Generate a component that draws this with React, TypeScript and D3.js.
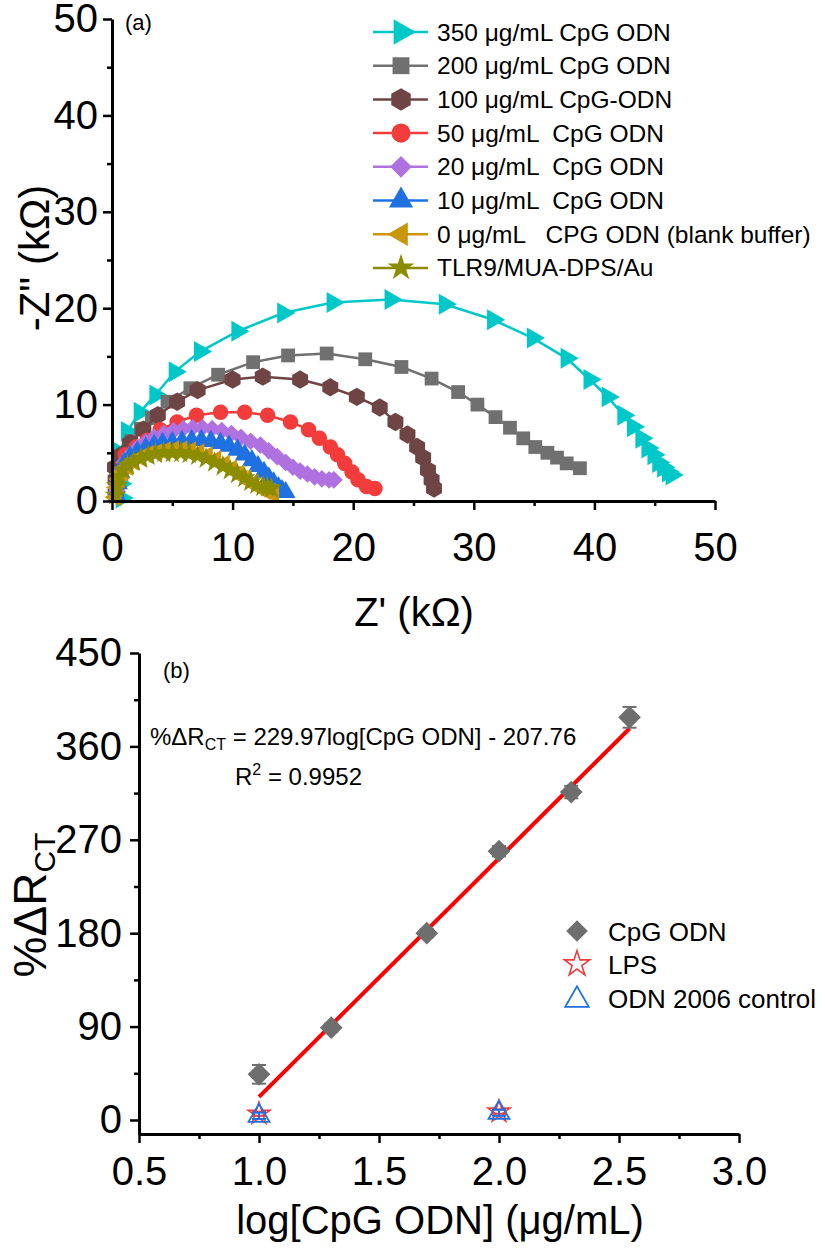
import * as d3 from "d3";
import React, { useEffect, useRef } from "react";

const W = 825;
const H = 1248;
const FONT = "Arial, 'Liberation Sans', Helvetica, sans-serif";

// ---- panel (a): Nyquist plots, Z' / -Z'' in kOhm ----
const S350: [number, number][] = [
  [0.8, 0.3], [0.7, 1.8], [0.65, 3.5], [0.66, 5.0], [1.24, 7.2], [2.3, 9.2], [3.6, 11.0],
  [5.2, 13.4], [7.3, 15.5], [10.4, 17.6], [14.2, 19.5], [18.3, 20.6], [23.1, 20.9],
  [27.6, 20.4], [31.6, 18.8], [34.9, 16.9], [37.7, 14.8], [39.6, 12.6], [41.1, 10.8],
  [42.4, 8.9], [43.2, 7.7], [43.9, 6.5], [44.4, 5.5], [44.9, 4.8], [45.3, 4.0],
  [45.7, 3.5], [46.1, 3.0], [46.4, 2.7],
];
const S200: [number, number][] = [
  [0.4, 1.2], [0.6, 3.0], [1.0, 4.8], [1.6, 6.2], [2.4, 7.5], [3.3, 8.6], [4.6, 10.3],
  [6.5, 11.7], [8.8, 13.1], [11.7, 14.4], [14.6, 15.1], [17.8, 15.3], [21.0, 14.7],
  [24.0, 13.9], [26.5, 12.7], [28.7, 11.3], [30.3, 10.0], [31.8, 8.7], [33.0, 7.6],
  [34.1, 6.5], [35.1, 5.6], [36.1, 5.0], [36.9, 4.5], [37.7, 3.9], [38.8, 3.4],
];
const S100: [number, number][] = [
  [0.3, 0.8], [0.3, 2.2], [0.25, 3.5], [0.8, 4.8], [1.5, 6.0], [2.6, 7.4], [3.8, 8.9],
  [5.4, 10.3], [7.1, 11.5], [10.0, 12.6], [12.5, 12.9], [15.6, 12.6], [18.1, 11.8],
  [20.3, 10.8], [22.2, 9.7], [23.5, 8.2], [24.5, 6.9], [25.3, 5.6], [25.8, 4.5],
  [26.2, 3.2], [26.5, 2.2], [26.7, 1.3],
];
const S50: [number, number][] = [
  [0.4, 1.2], [0.6, 2.8], [1.1, 4.8], [2.0, 5.6], [2.9, 6.3], [4.0, 7.4], [5.4, 8.2],
  [7.0, 8.9], [9.0, 9.2], [11.0, 9.2], [12.9, 8.9], [14.8, 8.2], [16.3, 7.4], [17.2, 6.5],
  [18.1, 5.6], [18.7, 4.8], [19.3, 3.9], [19.9, 3.0], [20.4, 2.2], [21.1, 1.5], [21.8, 1.3],
];
const S20: [number, number][] = [
  [0.4, 1.0], [0.5, 2.2], [0.7, 3.2], [1.0, 4.0], [1.5, 4.8], [2.1, 5.5], [2.8, 6.1],
  [3.5, 6.6], [4.3, 7.0], [5.1, 7.3], [5.9, 7.5], [6.7, 7.6], [7.5, 7.6], [8.3, 7.5],
  [9.1, 7.3], [9.9, 7.0], [10.7, 6.6], [11.5, 6.2], [12.3, 5.8], [13.0, 5.2], [13.7, 4.6],
  [14.4, 4.0], [15.0, 3.5], [15.6, 3.1], [16.2, 2.8], [16.8, 2.5], [17.4, 2.3], [18.0, 2.2],
  [18.4, 2.2],
];
const S10: [number, number][] = [
  [0.4, 0.5], [0.5, 1.8], [0.7, 3.0], [1.0, 3.9], [1.5, 4.6], [2.1, 5.1], [2.8, 5.5],
  [3.5, 5.8], [4.2, 6.0], [5.0, 6.1], [5.8, 6.2], [6.6, 6.3], [7.4, 6.3], [8.2, 6.2],
  [9.0, 6.0], [9.7, 5.7], [10.4, 5.3], [11.0, 4.8], [11.6, 4.2], [12.1, 3.6], [12.6, 3.0],
  [13.0, 2.4], [13.4, 1.9], [13.8, 1.4], [14.1, 1.1], [14.4, 0.9],
];
const S0: [number, number][] = [
  [0.3, 0.4], [0.4, 1.4], [0.6, 2.3], [0.9, 3.0], [1.3, 3.6], [1.8, 4.1], [2.4, 4.5],
  [3.0, 4.8], [3.7, 5.0], [4.4, 5.2], [5.1, 5.3], [5.8, 5.3], [6.5, 5.2], [7.2, 5.0],
  [7.9, 4.7], [8.6, 4.3], [9.3, 3.8], [9.9, 3.3], [10.5, 2.8], [11.1, 2.3], [11.7, 1.8],
  [12.2, 1.4], [12.7, 1.1], [13.1, 0.9], [13.4, 0.8],
];
const STLR9: [number, number][] = [
  [0.3, 0.6], [0.4, 1.6], [0.6, 2.5], [0.9, 3.2], [1.3, 3.7], [1.8, 4.1], [2.4, 4.4],
  [3.0, 4.7], [3.6, 4.9], [4.3, 5.0], [5.0, 5.0], [5.7, 5.0], [6.4, 4.9], [7.1, 4.7],
  [7.8, 4.4], [8.5, 4.0], [9.2, 3.6], [9.8, 3.2], [10.4, 2.8], [11.0, 2.4], [11.5, 2.0],
  [12.0, 1.7], [12.5, 1.5], [12.9, 1.4], [13.2, 1.3],
];

const LABELS_A = [
  "350 μg/mL CpG ODN",
  "200 μg/mL CpG ODN",
  "100 μg/mL CpG-ODN",
  "50 μg/mL  CpG ODN",
  "20 μg/mL  CpG ODN",
  "10 μg/mL  CpG ODN",
  "0 μg/mL   CPG ODN (blank buffer)",
  "TLR9/MUA-DPS/Au",
];
const COLORS_A = ["#00C8C8", "#707070", "#6E4444", "#F23C3C", "#B071E0", "#1F70E0", "#C9960C", "#8C8C00"];
const SHAPES_A = ["tri-right", "square", "hexagon", "circle", "diamond", "tri-up", "tri-left", "star"];
const SERIES_A = [S350, S200, S100, S50, S20, S10, S0, STLR9];
const X_TICKS_A = [0, 10, 20, 30, 40, 50];
const X_MINOR_A = [5, 15, 25, 35, 45];
const Y_TICKS_A = [0, 10, 20, 30, 40, 50];
const Y_MINOR_A = [5, 15, 25, 35, 45];

// ---- panel (b): calibration ----
const LOG_CONC = [1.0, 1.301, 1.699, 2.0, 2.301, 2.544];
const CPG_DR = [44, 89, 180, 259, 316, 388];
const CPG_ERR = [9, 4, 4, 5, 6, 10];
const CTRL_X = [1.0, 2.0];
const LPS_DR = [6, 8];
const LPS_ERR = [2, 2];
const ODN2006_DR = [4, 7];
const ODN2006_ERR = [3, 3];
const FIT_SLOPE = 229.97;
const FIT_INTERCEPT = -207.76;
const X_TICKS_B = [0.5, 1.0, 1.5, 2.0, 2.5, 3.0];
const X_MINOR_B = [0.75, 1.25, 1.75, 2.25, 2.75];
const Y_TICKS_B = [0, 90, 180, 270, 360, 450];
const Y_MINOR_B = [45, 135, 225, 315, 405];

const symbolHexagon = {
  draw(ctx: any, size: number) {
    const r = Math.sqrt(size / (1.5 * Math.sqrt(3)));
    for (let i = 0; i < 6; i++) {
      const a = -Math.PI / 2 + (i * Math.PI) / 3;
      if (i === 0) ctx.moveTo(r * Math.cos(a), r * Math.sin(a));
      else ctx.lineTo(r * Math.cos(a), r * Math.sin(a));
    }
    ctx.closePath();
  },
};

function marker(shape: string, size: number) {
  switch (shape) {
    case "square": return { d: d3.symbol(d3.symbolSquare, size)()!, rot: 0 };
    case "hexagon": return { d: d3.symbol(symbolHexagon as any, size)()!, rot: 0 };
    case "circle": return { d: d3.symbol(d3.symbolCircle, size)()!, rot: 0 };
    case "diamond": return { d: d3.symbol(d3.symbolDiamond2, size)()!, rot: 0 };
    case "star": return { d: d3.symbol(d3.symbolStar, size)()!, rot: 0 };
    case "tri-right": return { d: d3.symbol(d3.symbolTriangle, size)()!, rot: 90 };
    case "tri-left": return { d: d3.symbol(d3.symbolTriangle, size)()!, rot: -90 };
    default: return { d: d3.symbol(d3.symbolTriangle, size)()!, rot: 0 };
  }
}

const SIZES_A: Record<string, number> = {
  "tri-right": 190, square: 190, hexagon: 220, circle: 190, diamond: 200, "tri-up": 170, "tri-left": 160, star: 150,
};

function styleAxis(g: any, fontSize: number) {
  g.attr("font-family", FONT).attr("font-size", fontSize);
  g.select(".domain").attr("stroke-width", 3).attr("stroke", "#000");
  g.selectAll(".tick line").attr("stroke-width", 2.5).attr("stroke", "#000");
  g.selectAll(".tick text").attr("fill", "#000");
}

function minorAxis(g: any) {
  g.select(".domain").remove();
  g.selectAll(".tick text").remove();
  g.selectAll(".tick line").attr("stroke-width", 2.5).attr("stroke", "#000");
}

function drawNyquist(svg: any) {
  const x = d3.scaleLinear().domain([0, 50]).range([112, 715]);
  const y = d3.scaleLinear().domain([0, 50]).range([501, 19]);

  const line = d3.line<[number, number]>().x(d => x(d[0])).y(d => y(d[1]));

  SERIES_A.forEach((pts, i) => {
    const g = svg.append("g");
    g.append("path").attr("d", line(pts)).attr("fill", "none")
      .attr("stroke", COLORS_A[i]).attr("stroke-width", 2.5);
    const m = marker(SHAPES_A[i], SIZES_A[SHAPES_A[i]]);
    g.selectAll("path.pt").data(pts).join("path").attr("class", "pt")
      .attr("d", m.d).attr("fill", COLORS_A[i])
      .attr("transform", (d: [number, number]) => `translate(${x(d[0])},${y(d[1])}) rotate(${m.rot})`);
  });

  const gx = svg.append("g").attr("transform", `translate(0,${y(0)})`)
    .call(d3.axisBottom(x).tickValues(X_TICKS_A).tickSize(9).tickSizeOuter(0).tickPadding(23));
  styleAxis(gx, 40);
  const gxm = svg.append("g").attr("transform", `translate(0,${y(0)})`)
    .call(d3.axisBottom(x).tickValues(X_MINOR_A).tickSize(5).tickFormat(() => ""));
  minorAxis(gxm);

  const gy = svg.append("g").attr("transform", `translate(${x(0)},0)`)
    .call(d3.axisLeft(y).tickValues(Y_TICKS_A).tickSize(9).tickSizeOuter(0).tickPadding(5));
  styleAxis(gy, 40);
  const gym = svg.append("g").attr("transform", `translate(${x(0)},0)`)
    .call(d3.axisLeft(y).tickValues(Y_MINOR_A).tickSize(5).tickFormat(() => ""));
  minorAxis(gym);

  svg.append("text").attr("x", 414).attr("y", 626).attr("text-anchor", "middle")
    .attr("font-size", 40).text("Z' (kΩ)");
  svg.append("text").attr("transform", "translate(49,258) rotate(-90)").attr("text-anchor", "middle")
    .attr("font-size", 42).text("-Z\" (kΩ)");
  svg.append("text").attr("x", 125).attr("y", 30).attr("font-size", 22).text("(a)");

  // legend
  LABELS_A.forEach((lab, i) => {
    const cy = 32 + i * 33.7;
    svg.append("line").attr("x1", 373).attr("x2", 428).attr("y1", cy).attr("y2", cy)
      .attr("stroke", COLORS_A[i]).attr("stroke-width", 2.5);
    const m = marker(SHAPES_A[i], SIZES_A[SHAPES_A[i]] * 1.5);
    svg.append("path").attr("d", m.d).attr("fill", COLORS_A[i])
      .attr("transform", `translate(401,${cy}) rotate(${m.rot})`);
    svg.append("text").attr("x", 437).attr("y", cy + 8.5).attr("font-size", 24.5)
      .attr("xml:space", "preserve").style("white-space", "pre").text(lab);
  });
}

function drawCalibration(svg: any) {
  const x = d3.scaleLinear().domain([0.5, 3.0]).range([139, 739]);
  const y = d3.scaleLinear().domain([-13.5, 450]).range([1134, 653]);

  // fitted line over the CpG ODN range
  const fitX = [LOG_CONC[0], LOG_CONC[LOG_CONC.length - 1]];
  svg.append("path")
    .attr("d", d3.line<number>().x(d => x(d)).y(d => y(FIT_SLOPE * d + FIT_INTERCEPT))(fitX))
    .attr("stroke", "#FF0000").attr("stroke-width", 4).attr("fill", "none");

  const errBars = (xs: number[], ys: number[], es: number[], color: string, cap: number) => {
    xs.forEach((xv, i) => {
      const g = svg.append("g").attr("stroke", color).attr("stroke-width", 2);
      g.append("line").attr("x1", x(xv)).attr("x2", x(xv)).attr("y1", y(ys[i] - es[i])).attr("y2", y(ys[i] + es[i]));
      [ys[i] - es[i], ys[i] + es[i]].forEach(v => {
        g.append("line").attr("x1", x(xv) - cap).attr("x2", x(xv) + cap).attr("y1", y(v)).attr("y2", y(v));
      });
    });
  };

  errBars(LOG_CONC, CPG_DR, CPG_ERR, "#6E6E6E", 7);
  const dia = d3.symbol(d3.symbolDiamond2, 330)()!;
  svg.selectAll("path.cpg").data(LOG_CONC).join("path").attr("class", "cpg")
    .attr("d", dia).attr("fill", "#6E6E6E")
    .attr("transform", (d: number, i: number) => `translate(${x(d)},${y(CPG_DR[i])})`);

  const star = d3.symbol(d3.symbolStar, 150)()!;
  errBars(CTRL_X, LPS_DR, LPS_ERR, "#F03C3C", 7);
  svg.selectAll("path.lps").data(CTRL_X).join("path").attr("class", "lps")
    .attr("d", star).attr("fill", "none").attr("stroke", "#F03C3C").attr("stroke-width", 1.6)
    .attr("transform", (d: number, i: number) => `translate(${x(d)},${y(LPS_DR[i])})`);

  const tri = d3.symbol(d3.symbolTriangle, 190)()!;
  errBars(CTRL_X, ODN2006_DR, ODN2006_ERR, "#1F70E0", 7);
  svg.selectAll("path.odn").data(CTRL_X).join("path").attr("class", "odn")
    .attr("d", tri).attr("fill", "none").attr("stroke", "#1F70E0").attr("stroke-width", 1.8)
    .attr("transform", (d: number, i: number) => `translate(${x(d)},${y(ODN2006_DR[i])})`);

  const gx = svg.append("g").attr("transform", `translate(0,${y.range()[0]})`)
    .call(d3.axisBottom(x).tickValues(X_TICKS_B).tickSize(9).tickSizeOuter(0).tickPadding(14).tickFormat(d3.format(".1f")));
  styleAxis(gx, 40);
  const gxm = svg.append("g").attr("transform", `translate(0,${y.range()[0]})`)
    .call(d3.axisBottom(x).tickValues(X_MINOR_B).tickSize(5).tickFormat(() => ""));
  minorAxis(gxm);

  const gy = svg.append("g").attr("transform", `translate(${x(0.5)},0)`)
    .call(d3.axisLeft(y).tickValues(Y_TICKS_B).tickSize(9).tickSizeOuter(0).tickPadding(8));
  styleAxis(gy, 40);
  const gym = svg.append("g").attr("transform", `translate(${x(0.5)},0)`)
    .call(d3.axisLeft(y).tickValues(Y_MINOR_B).tickSize(5).tickFormat(() => ""));
  minorAxis(gym);

  svg.append("text").attr("x", 440).attr("y", 1234).attr("text-anchor", "middle")
    .attr("font-size", 40).text("log[CpG ODN] (μg/mL)");

  const yt = svg.append("text").attr("transform", "translate(46,905) rotate(-90)")
    .attr("text-anchor", "middle").attr("font-size", 46);
  yt.append("tspan").text("%ΔR");
  yt.append("tspan").attr("font-size", 30).attr("dy", 9).text("CT");

  svg.append("text").attr("x", 163).attr("y", 678).attr("font-size", 22).text("(b)");

  const eq = svg.append("text").attr("x", 150).attr("y", 745).attr("font-size", 24);
  eq.append("tspan").text("%ΔR");
  eq.append("tspan").attr("font-size", 16).attr("dy", 5).text("CT");
  eq.append("tspan").attr("dy", -5).text(" = 229.97log[CpG ODN] - 207.76");

  const r2 = svg.append("text").attr("x", 235).attr("y", 785).attr("font-size", 24);
  r2.append("tspan").text("R");
  r2.append("tspan").attr("font-size", 16).attr("dy", -10).text("2");
  r2.append("tspan").attr("dy", 10).text(" = 0.9952");

  // legend
  const legY = [931, 964, 998];
  const legLab = ["CpG ODN", "LPS", "ODN 2006 control"];
  svg.append("path").attr("d", d3.symbol(d3.symbolDiamond2, 300)()!).attr("fill", "#6E6E6E")
    .attr("transform", `translate(577,${legY[0]})`);
  svg.append("path").attr("d", d3.symbol(d3.symbolStar, 200)()!).attr("fill", "none")
    .attr("stroke", "#F03C3C").attr("stroke-width", 1.6).attr("transform", `translate(577,${legY[1]})`);
  svg.append("path").attr("d", d3.symbol(d3.symbolTriangle, 240)()!).attr("fill", "none")
    .attr("stroke", "#1F70E0").attr("stroke-width", 1.8).attr("transform", `translate(577,${legY[2] + 2})`);
  legLab.forEach((lab, i) => {
    svg.append("text").attr("x", 608).attr("y", legY[i] + 9.5).attr("font-size", 26).text(lab);
  });
}

export default function App() {
  const ref = useRef<SVGSVGElement>(null);
  useEffect(() => {
    const svg = d3.select(ref.current);
    svg.selectAll("*").remove();
    drawNyquist(svg);
    drawCalibration(svg);
  }, []);
  return (
    <svg
      ref={ref}
      width={W}
      height={H}
      fontFamily={FONT}
      style={{ position: "absolute", left: 0, top: 0, background: "#fff" }}
    />
  );
}
